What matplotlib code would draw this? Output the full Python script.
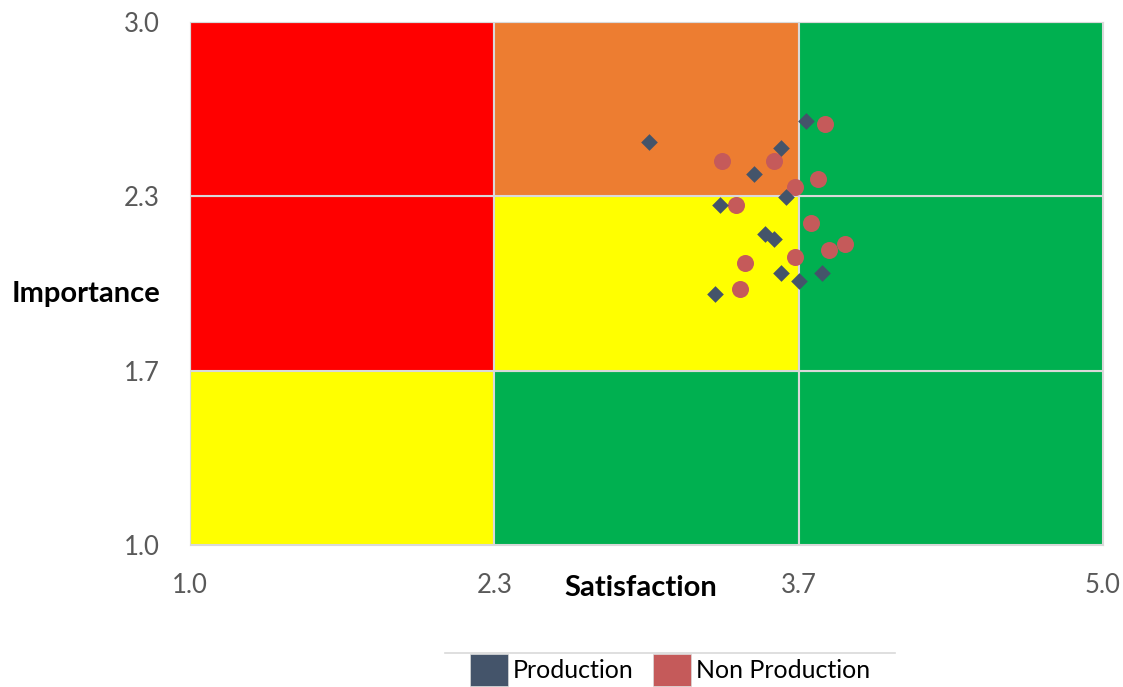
import matplotlib.pyplot as plt
from matplotlib.patches import Rectangle, Patch
from matplotlib.lines import Line2D

# grid bounds (thirds of each axis) and cell colours, bottom row first
x_edges = [1.0, 7 / 3, 11 / 3, 5.0]
y_edges = [1.0, 5 / 3, 7 / 3, 3.0]
cell_colors = [
    ['#FFFF00', '#00B050', '#00B050'],
    ['#FF0000', '#FFFF00', '#00B050'],
    ['#FF0000', '#ED7D31', '#00B050'],
]

prod_sat = [3.01, 3.70, 3.59, 3.47, 3.61, 3.32, 3.52, 3.56, 3.59, 3.77, 3.67, 3.30]
prod_imp = [2.54, 2.62, 2.52, 2.42, 2.33, 2.30, 2.19, 2.17, 2.04, 2.04, 2.01, 1.96]

nonprod_sat = [3.78, 3.33, 3.56, 3.75, 3.65, 3.39, 3.72, 3.87, 3.80, 3.65, 3.43, 3.41]
nonprod_imp = [2.61, 2.47, 2.47, 2.40, 2.37, 2.30, 2.23, 2.15, 2.13, 2.10, 2.08, 1.98]

prod_color = '#44546A'
nonprod_color = '#C55A5A'
tick_color = '#595959'
font = 'Lato'

fig = plt.figure(figsize=(11.23, 6.87), dpi=100)
ax = fig.add_axes([190 / 1123, 142 / 687, 913 / 1123, 523 / 687])

for i in range(3):
    for j in range(3):
        ax.add_patch(Rectangle((x_edges[j], y_edges[i]),
                               x_edges[j + 1] - x_edges[j],
                               y_edges[i + 1] - y_edges[i],
                               facecolor=cell_colors[i][j],
                               edgecolor='#D9D9D9', linewidth=1.5, zorder=1))

ax.scatter(nonprod_sat, nonprod_imp, marker='o', s=150, color=nonprod_color,
           linewidths=0, zorder=3)
ax.scatter(prod_sat, prod_imp, marker='D', s=72, color=prod_color,
           linewidths=0, zorder=4)

ax.set_xlim(1.0, 5.0)
ax.set_ylim(1.0, 3.0)
ax.set_xticks(x_edges)
ax.set_yticks(y_edges)
ax.set_xticklabels(['%.1f' % v for v in x_edges])
ax.set_yticklabels(['%.1f' % v for v in y_edges])
ax.tick_params(length=0, labelsize=18.5, labelcolor=tick_color)
ax.tick_params(axis='x', pad=20)
ax.tick_params(axis='y', pad=22)
for lab in ax.get_xticklabels() + ax.get_yticklabels():
    lab.set_fontfamily(font)
for sp in ax.spines.values():
    sp.set_color('#D9D9D9')

fig.text(641 / 1123, 1 - 588 / 687, 'Satisfaction', ha='center', va='center',
         fontsize=21, fontweight='bold', family=font)
fig.text(86 / 1123, 1 - 294 / 687, 'Importance', ha='center', va='center',
         fontsize=21, fontweight='bold', family=font)

# legend sits at the bottom edge with only its top border showing
fig.add_artist(Line2D([445 / 1123, 895 / 1123], [1 - 653 / 687] * 2,
                      color='#D9D9D9', linewidth=1.2))
handles = [Patch(facecolor=prod_color, edgecolor='#D9D9D9', linewidth=0.5),
           Patch(facecolor=nonprod_color, edgecolor='#D9D9D9', linewidth=0.5)]
fig.legend(handles, ['Production', 'Non Production'], loc='upper center',
           bbox_to_anchor=(670 / 1123, 1 - 654 / 687), ncol=2, frameon=False,
           handlelength=1.5, handleheight=1.6, handletextpad=0.2,
           columnspacing=0.8, borderpad=0, borderaxespad=0,
           prop={'family': font, 'size': 18})

fig.savefig('out.png', dpi=100)
